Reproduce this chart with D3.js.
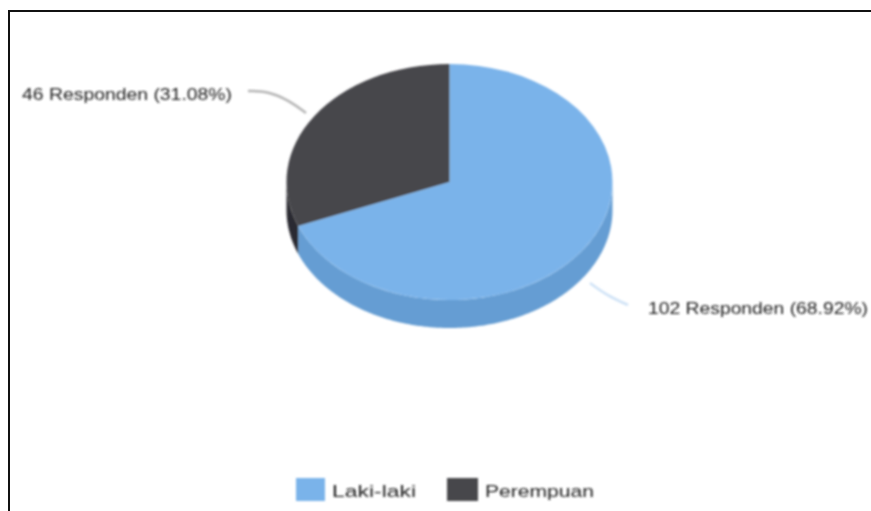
<!DOCTYPE html>
<html>
<head>
<meta charset="utf-8">
<script src="https://d3js.org/d3.v7.min.js"></script>
<style>
  html, body { margin: 0; padding: 0; background: #fff; }
  svg { display: block; }
  text { font-family: "Liberation Sans", Arial, sans-serif; fill: #222; }
</style>
</head>
<body>
<div id="chart"></div>
<script>
// Datos
const categories = ["Laki-laki", "Perempuan"];
const values = [102, 46];
const sliceLabels = ["102 Responden (68.92%)", "46 Responden (31.08%)"];
const topColors = ["#7ab3ea", "#47464b"];
const sideColors = ["#659dd3", "#2c2c30"];

const width = 871, height = 511;
const cx = 449.5, cy = 182, rx = 163, ry = 118, depth = 28;

const svg = d3.select("#chart").append("svg")
    .attr("width", width)
    .attr("height", height);

// Desenfoque: la referencia es una imagen de baja resolucion
const defs = svg.append("defs");
defs.append("filter").attr("id", "soft")
    .append("feGaussianBlur").attr("stdDeviation", 1);
defs.append("filter").attr("id", "softText")
    .attr("x", "-5%").attr("y", "-50%").attr("width", "110%").attr("height", "200%")
    .append("feGaussianBlur").attr("stdDeviation", 1.1);

// Marco
svg.append("rect")
    .attr("x", 9).attr("y", 11)
    .attr("width", width + 20).attr("height", height + 20)
    .attr("fill", "none")
    .attr("stroke", "#111")
    .attr("stroke-width", 2);

const color = d3.scaleOrdinal().domain(categories).range(topColors);
const sideColor = d3.scaleOrdinal().domain(categories).range(sideColors);

const pie = d3.pie().sort(null).value((d, i) => values[i]);
const slices = pie(categories);

// Proyeccion de un angulo (horario desde arriba) sobre la elipse
const px = a => cx + rx * Math.sin(a);
const py = a => cy - ry * Math.cos(a);

const chart = svg.append("g").attr("filter", "url(#soft)");

// Pared lateral: solo la mitad inferior de la elipse es visible
slices.forEach(s => {
    const a0 = Math.max(s.startAngle, Math.PI / 2);
    const a1 = Math.min(s.endAngle, 3 * Math.PI / 2);
    if (a1 <= a0) return;
    const angles = d3.range(a0, a1, 0.01).concat([a1]);
    const pts = angles.map(a => [px(a), py(a)])
        .concat(angles.slice().reverse().map(a => [px(a), py(a) + depth]));
    chart.append("path")
        .attr("d", d3.line()(pts) + "Z")
        .attr("fill", sideColor(s.data));
});

// Cara superior
const arc = d3.arc().innerRadius(0).outerRadius(1);
chart.append("g")
    .attr("transform", `translate(${cx},${cy}) scale(${rx},${ry})`)
    .selectAll("path")
    .data(slices)
    .enter()
    .append("path")
    .attr("d", arc)
    .attr("fill", d => color(d.data));

// Lineas guia
const leader = d3.line().curve(d3.curveBasis);
svg.append("path")
    .attr("d", leader([[628, 305], [608, 296], [590, 283]]))
    .attr("fill", "none")
    .attr("stroke", "#cfe2f6")
    .attr("stroke-width", 2.5)
    .attr("filter", "url(#soft)");
svg.append("path")
    .attr("d", leader([[248, 91], [268, 91], [290, 101], [306, 113]]))
    .attr("fill", "none")
    .attr("stroke", "#b5b5b5")
    .attr("stroke-width", 2.5)
    .attr("filter", "url(#soft)");

// Etiquetas
const labelPos = [[648, 314, 220], [22, 100, 210]];
svg.selectAll("text.label")
    .data(sliceLabels)
    .enter()
    .append("text")
    .attr("class", "label")
    .attr("x", (d, i) => labelPos[i][0])
    .attr("y", (d, i) => labelPos[i][1])
    .attr("textLength", (d, i) => labelPos[i][2])
    .attr("lengthAdjust", "spacingAndGlyphs")
    .attr("font-size", 17)
    .attr("filter", "url(#softText)")
    .text(d => d);

// Leyenda
const legendPos = [[296, 332, 84], [447, 485, 109]];
const legend = svg.selectAll("g.legend")
    .data(categories)
    .enter()
    .append("g")
    .attr("class", "legend");
legend.append("rect")
    .attr("x", (d, i) => legendPos[i][0])
    .attr("y", 478)
    .attr("width", (d, i) => i === 0 ? 29 : 31)
    .attr("height", 23)
    .attr("fill", d => color(d))
    .attr("filter", "url(#soft)");
legend.append("text")
    .attr("x", (d, i) => legendPos[i][1])
    .attr("y", 497)
    .attr("textLength", (d, i) => legendPos[i][2])
    .attr("lengthAdjust", "spacingAndGlyphs")
    .attr("font-size", 17)
    .attr("filter", "url(#softText)")
    .text(d => d);
</script>
</body>
</html>
